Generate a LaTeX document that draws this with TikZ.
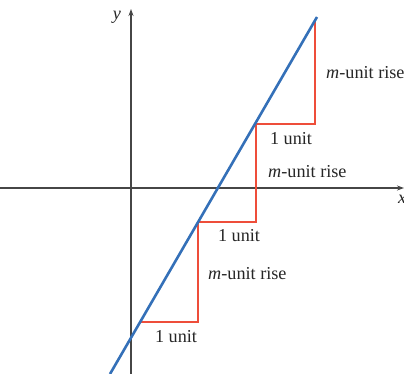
\documentclass[tikz,border=0pt]{standalone}
\usepackage{fontspec}
\setmainfont{Liberation Serif}
\usetikzlibrary{arrows.meta}
\definecolor{lineblue}{RGB}{52,112,184}
\definecolor{stepred}{RGB}{238,78,58}
\definecolor{axisgray}{RGB}{70,70,70}
\begin{document}
\begin{tikzpicture}[x=1pt,y=-1pt,
  axis/.style={draw=axisgray,line width=1.1pt,-{Stealth[length=7pt,width=5pt]}},
  steps/.style={draw=stepred,line width=2.2pt,line join=miter},
  lbl/.style={font=\fontsize{18.2}{20}\selectfont,inner sep=0pt,text=black!85},
  bline/.style={draw=lineblue,line width=2.6pt}]
\useasboundingbox (0,0) rectangle (404,374);
\coordinate (xs) at (0,188);
\coordinate (xe) at (404,188);
\coordinate (ys) at (131,374);
\coordinate (ye) at (131,9);
\draw[axis] (xs) -- (xe);
\draw[axis] (ys) -- (ye);
\node[lbl,font=\fontsize{18.2}{20}\selectfont\itshape] (ylab) at (117,17) {y};
\node[lbl,font=\fontsize{18.2}{20}\selectfont\itshape,anchor=west] (xlab) at (398,199) {x};
\coordinate (p0) at (140,322);
\coordinate (p1) at (198,222);
\coordinate (p2) at (256,124);
\coordinate (p3) at (315,22);
\coordinate (b0) at (110,374);
\coordinate (b1) at (317,17);
\draw[steps] (p0) -- (p0 -| p1) -- (p1) -- (p1 -| p2) -- (p2) -- (p2 -| p3) -- (p3);
\draw[bline] (b0) -- (b1);
\node[lbl] (u1) at (176,337) {1 unit};
\node[lbl] (u2) at (239,236) {1 unit};
\node[lbl] (u3) at (291,139) {1 unit};
\node[lbl,anchor=west] (r1) at (208,274) {\textit{m}-unit rise};
\node[lbl,anchor=west] (r2) at (268,172) {\textit{m}-unit rise};
\node[lbl,anchor=west] (r3) at (326,73) {\textit{m}-unit rise};
\end{tikzpicture}
\end{document}
